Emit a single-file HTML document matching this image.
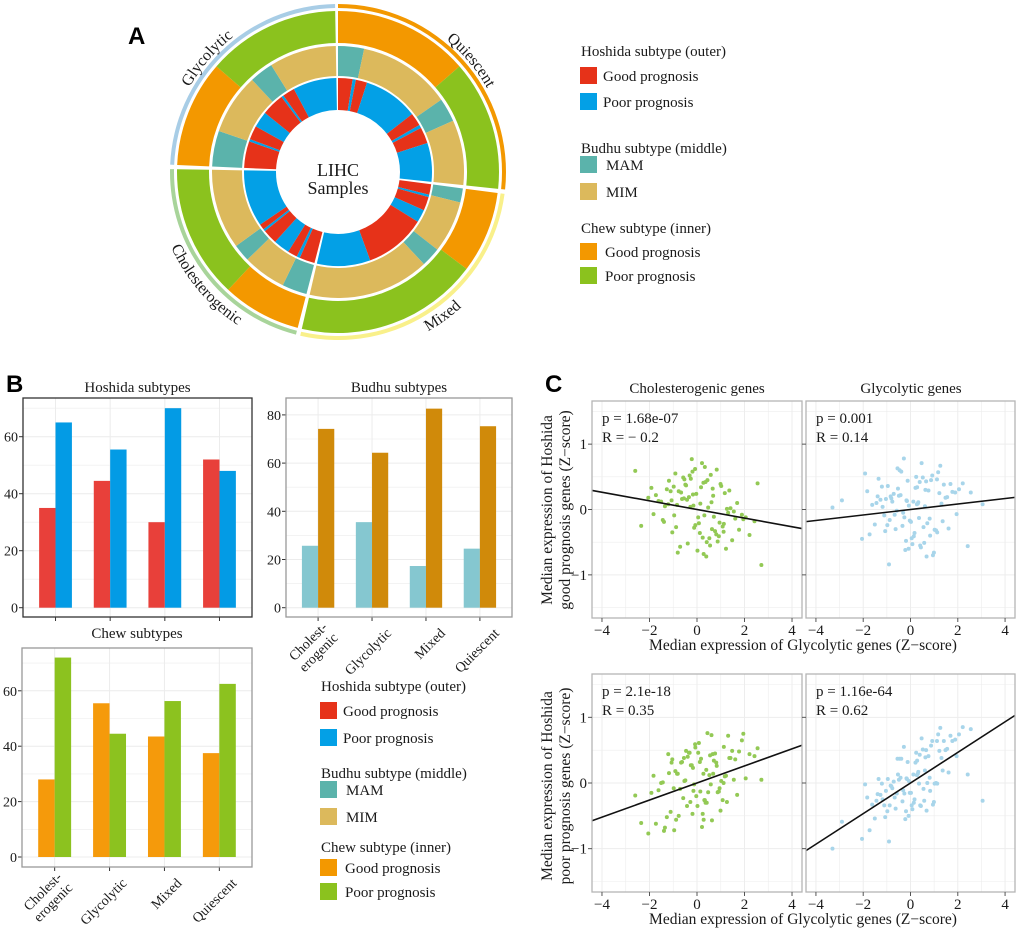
<!DOCTYPE html>
<html><head><meta charset="utf-8">
<style>
html,body{margin:0;padding:0;background:#fff;}
svg{display:block;font-family:"Liberation Serif",serif;}
</style></head>
<body>
<svg id="fig" width="1020" height="932" viewBox="0 0 1020 932" xmlns="http://www.w3.org/2000/svg">
<defs></defs>
<g id="donut"></g>
<g id="legendA"></g>
<g id="bars"></g>
<g id="legendB"></g>
<g id="scatter"></g>
<text x="128" y="44" font-family="Liberation Sans, sans-serif" font-weight="bold" font-size="24">A</text>
<text x="6" y="392" font-family="Liberation Sans, sans-serif" font-weight="bold" font-size="24">B</text>
<text x="545" y="392" font-family="Liberation Sans, sans-serif" font-weight="bold" font-size="24">C</text>
</svg>
<script>
// ---------- donut data ----------
const ringChew = [[0,49,'good'],[49,96,'poor'],[97.5,127,'good'],[127,193,'poor'],[194.5,223,'good'],[223,271,'poor'],[272.5,311,'good'],[311,359,'poor']];
const ringBudhu = [[0,12,'MAM'],[12,55,'MIM'],[55,66,'MAM'],[66,96,'MIM'],[97.5,104,'MAM'],[104,128,'MIM'],[128,137,'MAM'],[137,193,'MIM'],[194.5,206,'MAM'],[206,226,'MIM'],[226,234,'MAM'],[234,271,'MIM'],[272.5,289,'MAM'],[289,317,'MIM'],[317,328,'MAM'],[328,359,'MIM']];
const ringHoshida = [[0,9,'good'],[9,11,'poor'],[11,18,'good'],[18,52,'poor'],[52,60,'good'],[60,62,'poor'],[62,72,'good'],[72,96,'poor'],[97.5,104,'good'],[104,105.5,'poor'],[105.5,114,'good'],[114,122,'poor'],[122,160,'good'],[160,193,'poor'],[194.5,204,'good'],[204,206,'poor'],[206,212,'good'],[212,222,'poor'],[222,231,'good'],[231,232.5,'poor'],[232.5,236,'good'],[236,271,'poor'],[272.5,289,'good'],[289,290.5,'poor'],[290.5,299,'good'],[299,309,'poor'],[309,323,'good'],[323,324.5,'poor'],[324.5,332,'good'],[332,359,'poor']];
const groupNames = ['Quiescent','Mixed','Cholesterogenic','Glycolytic'];
const groupArcs = [[0,96],[97.5,193],[194.5,271],[272.5,359]];

// ---------- bar data ----------
const barCats = ['Cholest-\nerogenic','Glycolytic','Mixed','Quiescent'];
const hoshidaGood = [35,44.5,30,52];
const hoshidaPoor = [65,55.5,70,48];
const budhuMAM = [25.7,35.5,17.3,24.5];
const budhuMIM = [74.2,64.3,82.6,75.3];
const chewGood = [28,55.5,43.5,37.5];
const chewPoor = [72,44.5,56.3,62.5];
const ticks60 = [0,20,40,60];
const ticks80 = [0,20,40,60,80];

// ---------- scatter data ----------
const xL = [-0.42,1.13,0.27,-1.35,0.81,-0.08,2.05,-0.77,0.55,-1.92,0.14,1.48,-0.31,-0.96,0.68,1.77,-1.18,0.02,-0.55,1.02,-2.35,0.39,-0.19,1.31,-1.51,0.92,-0.67,0.21,2.42,-1.04,0.47,-0.26,1.22,-1.73,0.61,-0.12,0.99,-0.84,1.61,-0.39,0.33,-2.05,0.76,-0.58,1.41,0.08,-1.27,0.52,-0.03,1.89,-0.91,0.28,-1.62,1.08,-0.46,0.71,-0.15,2.21,-1.11,0.44,-0.71,1.26,0.17,-1.44,0.87,-0.34,1.55,-0.22,0.63,-2.6,0.05,1.17,-0.81,0.36,-1.21,0.95,-0.49,2.71,-0.63,0.24,1.36,-1.83,0.58,-0.07,1.69,-0.98,0.12,-0.28,0.83,-1.39,1.95,-0.53,0.41,-0.17,1.12,-1.07,0.31,2.55,-0.88,0.66];
const xR = [-0.42,1.13,0.27,-1.35,0.81,-0.08,2.05,-0.77,0.55,-1.92,0.14,1.48,-0.31,-0.96,0.68,1.77,-1.18,0.02,-0.55,1.02,-2.9,0.39,-0.19,1.31,-1.51,0.92,-0.67,0.21,2.42,-1.04,0.47,-0.26,1.22,-1.73,0.61,-0.12,0.99,-0.84,1.61,-0.39,0.33,-2.05,0.76,-0.58,1.41,0.08,-1.27,0.52,-0.03,1.89,-0.91,0.28,-1.62,1.08,-0.46,0.71,-0.15,2.21,-1.11,0.44,-0.71,1.26,0.17,-1.44,0.87,-0.34,1.55,-0.22,0.63,-3.3,0.05,1.17,-0.81,0.36,-1.21,0.95,-0.49,3.05,-0.63,0.24,1.36,-1.83,0.58,-0.07,1.69,-0.98,0.12,-0.28,0.83,-1.39,1.95,-0.53,0.41,-0.17,1.12,-1.07,0.31,2.55,-0.88,0.66];
const yTL = [0.15,-0.22,0.41,0.05,-0.38,0.62,-0.12,0.28,-0.55,0.33,0.09,-0.47,0.52,-0.09,0.21,-0.31,0.44,-0.63,0.17,0.36,-0.25,-0.72,0.58,-0.05,0.12,-0.41,0.26,0.71,-0.18,-0.35,0.03,0.47,-0.6,0.22,0.11,-0.28,0.39,0.07,-0.14,-0.52,0.65,0.18,-0.33,0.49,0.02,-0.21,0.31,-0.44,0.24,-0.08,0.55,-0.68,0.13,-0.26,0.37,-0.11,0.06,-0.39,0.28,0.45,-0.57,0.01,0.34,-0.16,-0.49,0.19,-0.03,0.77,-0.3,0.59,-0.12,0.25,-0.66,0.42,0.08,-0.2,0.38,-0.85,0.16,-0.43,0.29,-0.07,0.53,-0.24,0.1,0.35,-0.36,0.04,0.61,-0.19,-0.15,0.46,-0.5,0.23,-0.34,0.14,-0.09,0.4,-0.27,0.32];
const yTR = [0.22,-0.35,0.08,0.47,-0.14,-0.6,0.31,0.12,-0.27,0.55,-0.41,0.18,-0.05,0.36,-0.72,0.27,0.04,-0.19,0.63,-0.31,0.14,0.42,-0.48,0.09,-0.23,0.52,-0.08,0.33,-0.56,0.16,0.71,-0.12,0.25,-0.38,0.05,0.44,-0.66,0.2,-0.29,0.58,0.11,-0.45,0.29,-0.02,0.38,-0.53,0.15,0.49,-0.17,0.26,-0.84,0.34,0.07,-0.32,0.6,-0.21,0.13,0.4,-0.09,-0.58,0.24,0.67,-0.36,0.1,0.45,-0.25,0.19,-0.62,0.3,0.03,-0.44,0.57,0.17,-0.13,0.35,-0.7,0.21,0.08,-0.3,0.5,-0.18,0.28,-0.51,0.06,0.39,-0.24,0.12,0.78,-0.4,0.2,-0.07,0.32,-0.55,0.14,0.46,-0.33,0.09,0.26,-0.16,0.43];
const yBL = [-0.35,0.55,0.14,-0.68,0.31,0.59,0.07,-0.5,0.42,-0.15,-0.13,0.49,0.46,-0.72,0.14,0.48,0.15,-0.35,0.38,0.03,-0.61,0.2,-0.47,0.72,0.0,-0.13,0.31,-0.67,0.41,0.36,-0.14,0.27,0.11,-0.62,0.73,-0.02,-0.42,0.14,0.36,0.4,-0.26,-0.77,0.45,-0.23,0.38,0.61,-0.52,0.12,-0.2,0.65,0.18,-0.56,-0.11,-0.26,0.49,0.34,-0.12,0.44,-0.44,0.76,-0.09,-0.29,0.37,0.01,-0.14,0.46,0.05,0.27,-0.57,-0.19,0.46,0.1,0.14,-0.3,0.44,-0.08,0.04,0.05,0.32,-0.47,0.38,0.11,-0.02,0.54,-0.18,-0.08,0.32,-0.29,0.26,-0.73,0.75,0.03,-0.3,0.23,0.0,0.31,-0.26,0.53,-0.56,0.44];
const yBR = [0.08,-0.01,0.12,0.06,0.08,-0.5,0.74,-0.08,-0.09,-0.02,-0.3,0.5,-0.11,0.06,-0.42,0.64,-0.25,-0.15,0.37,-0.01,-0.59,0.43,-0.43,0.38,-0.54,0.64,-0.22,0.31,0.13,-0.12,0.68,-0.16,0.49,-0.72,0.19,0.32,-0.29,-0.04,0.16,0.37,0.17,-0.85,0.41,-0.16,0.64,-0.4,-0.18,0.51,-0.15,0.66,-0.89,0.34,-0.33,0.0,0.37,0.0,0.06,0.85,-0.34,-0.35,0.02,0.84,-0.25,-0.27,0.57,-0.28,0.52,-0.55,0.39,-1.0,-0.34,0.74,-0.05,-0.01,-0.01,-0.33,0.05,-0.27,-0.39,0.46,0.19,-0.22,-0.27,0.03,0.72,-0.43,0.13,0.55,-0.12,-0.17,0.41,0.13,-0.34,0.07,0.64,-0.52,0.14,0.82,-0.34,0.5];
const fitSlope = [-0.066,0.042,0.13,0.233];
const fitIntercept = [0,0,0,0];
const statP = ['p = 1.68e-07','p = 0.001','p = 2.1e-18','p = 1.16e-64'];
const statR = ['R = \u2212 0.2','R = 0.14','R = 0.35','R = 0.62'];
const xTicks = [-4,-2,0,2,4];
const yTicks = [-1,0,1];

const NS = 'http://www.w3.org/2000/svg';
function mk(tag, attrs, parent){ const e=document.createElementNS(NS,tag); for(const k in attrs) e.setAttribute(k,attrs[k]); if(parent) parent.appendChild(e); return e; }
function txt(parent, x, y, s, size, anchor, extra){ const t=mk('text',Object.assign({x:x,y:y,'font-size':size,'text-anchor':anchor||'start',fill:'#1a1a1a'},extra||{}),parent); t.textContent=s; return t; }

// ---------- donut ----------
const cx=338, cy=172;
const donut=document.getElementById('donut');
function pt(r,a){ const t=a*Math.PI/180; return [cx+r*Math.sin(t), cy-r*Math.cos(t)]; }
function arcPath(r0,r1,a0,a1){
  const large=(a1-a0)>180?1:0;
  const p1=pt(r1,a0),p2=pt(r1,a1),p3=pt(r0,a1),p4=pt(r0,a0);
  return `M${p1[0]},${p1[1]}A${r1},${r1} 0 ${large} 1 ${p2[0]},${p2[1]}L${p3[0]},${p3[1]}A${r0},${r0} 0 ${large} 0 ${p4[0]},${p4[1]}Z`;
}
const chewCol={good:'#f39800',poor:'#8bc21e'};
const budhuCol={MAM:'#5bb3ab',MIM:'#dcb95c'};
const hoshCol={good:'#e63219',poor:'#03a0e6'};
function drawRing(data, r0, r1, cols, name){
  data.forEach(function(s){
    const p=mk('path',{d:arcPath(r0,r1,s[0],s[1]),fill:cols[s[2]]},donut);
    
    
  });
}
drawRing(ringChew,129,161,chewCol,'chew-ring');
drawRing(ringBudhu,96,126,budhuCol,'budhu-ring');
drawRing(ringHoshida,62,94,hoshCol,'hoshida-ring');
const groupCols=['#f39800','#f9f08a','#a8d49a','#a8cde6'];
const labelAngles=[50,144,229.5,311];
const defs=document.querySelector('defs');
groupArcs.forEach(function(g,i){
  const p=mk('path',{d:arcPath(164,168,g[0],g[1]),fill:groupCols[i]},donut);
  
  
  const a=labelAngles[i];
  const cw = (a<90||a>270);
  const r = cw?171:183;
  const a0=cw?a-70:a+70, a1=cw?a+70:a-70;
  const s=pt(r,a0), e=pt(r,a1);
  mk('path',{id:'lp'+i,d:`M${s[0]},${s[1]}A${r},${r} 0 0 ${cw?1:0} ${e[0]},${e[1]}`,fill:'none'},defs);
  const t=mk('text',{'font-size':16,fill:'#1a1a1a'},donut);
  
  
  const tp=mk('textPath',{href:'#lp'+i,startOffset:'50%','text-anchor':'middle'},t);
  tp.textContent=groupNames[i];
});
const c1=txt(donut,cx,176,'LIHC',18,'middle');  
const c2=txt(donut,cx,194,'Samples',18,'middle');  

// ---------- legends ----------
function legend(parent, x, entries){
  entries.forEach(function(e){
    if(e.title){ const t=txt(parent,x,e.y,e.title,15,'start');   }
    else {
      const r=mk('rect',{x:x-1,y:e.y,width:17,height:17,fill:e.c},parent);
       
      const t=txt(parent,x+(e.ind||22),e.y+14,e.label,15,'start');  
    }
  });
}
function legendSet(y0,y1,y2,y3,y4,y5,y6,y7){
  return [{title:'Hoshida subtype (outer)',y:y0},{c:'#e63219',label:'Good prognosis',y:y1},{c:'#03a0e6',label:'Poor prognosis',y:y2},
   {title:'Budhu subtype (middle)',y:y3},{c:'#5bb3ab',label:'MAM',y:y4,ind:25},{c:'#dcb95c',label:'MIM',y:y5,ind:25},
   {title:'Chew subtype (inner)',y:y6},{c:'#f39800',label:'Good prognosis',y:y7,ind:24},{c:'#8bc21e',label:'Poor prognosis',y:y7+24,ind:24}];
}
legend(document.getElementById('legendA'),581,legendSet(56,67,93,153,156,183,233,243));
legend(document.getElementById('legendB'),321,legendSet(691,702,729,778,781,808,852,859));

// ---------- bars ----------
const barsG=document.getElementById('bars');
function barChart(o){
  const g=mk('g',{},barsG);
   
  const w=o.x1-o.x0, step=w/4.19;
  const y=v=>o.zero-o.ppu*v;
  for(let v=0; y(v)>o.y0; v+=10){
    mk('line',{x1:o.x0,x2:o.x1,y1:y(v),y2:y(v),stroke:'#ececec','stroke-width':v%20===0?1:0.6},g);
  }
  for(let i=0;i<4;i++){ const cxx=o.x0+(0.595+i)*step; mk('line',{x1:cxx,x2:cxx,y1:o.y0,y2:o.y1,stroke:'#ececec','stroke-width':1},g); }
  for(let i=0;i<4;i++){
    const cxx=o.x0+(0.595+i)*step, bw=0.3*step;
    const b1=mk('rect',{x:cxx-bw,y:y(o.a[i]),width:bw,height:o.ppu*o.a[i],fill:o.ca},g);
     
    const b2=mk('rect',{x:cxx,y:y(o.b[i]),width:bw,height:o.ppu*o.b[i],fill:o.cb},g);
     
    mk('line',{x1:cxx,x2:cxx,y1:o.y1,y2:o.y1+4,stroke:'#333'},g);
    if(o.labels){
      const lines=barCats[i].split('\n');
      if(lines.length===1){
        const t=txt(g,0,0,lines[0],14,'end',{transform:`translate(${cxx+o.lx},${o.y1+17}) rotate(-45)`});
         
      } else {
        lines.forEach(function(l,k){
          const t=txt(g,0,k*15,l,14,'end',{transform:`translate(${cxx+o.lx-10},${o.y1+11}) rotate(-45)`});
           
        });
      }
    }
  }
  o.ticks.forEach(function(v){
    mk('line',{x1:o.x0-4,x2:o.x0,y1:y(v),y2:y(v),stroke:'#333'},g);
    const t=txt(g,o.x0-5,y(v)+5,String(v),14,'end');  
  });
  mk('rect',{x:o.x0,y:o.y0,width:w,height:o.y1-o.y0,fill:'none',stroke:o.border,'stroke-width':1.3},g);
  const tt=txt(g,(o.x0+o.x1)/2,o.ty,o.title,15,'middle');  
}
barChart({name:'hoshida-bar-chart',x0:23,x1:252,y0:398,y1:617,zero:607.7,ppu:2.85,a:hoshidaGood,b:hoshidaPoor,ca:'#e8403a',cb:'#039be5',ka:'good',kb:'poor',ticks:ticks60,border:'#333',title:'Hoshida subtypes',ty:392,labels:false});
barChart({name:'budhu-bar-chart',x0:286,x1:512,y0:398,y1:617,zero:607.7,ppu:2.41,a:budhuMAM,b:budhuMIM,ca:'#85c7d0',cb:'#d08a0a',ka:'mam',kb:'mim',ticks:ticks80,border:'#999',title:'Budhu subtypes',ty:392,labels:true,lx:20});
barChart({name:'chew-bar-chart',x0:22,x1:252,y0:648,y1:867,zero:857,ppu:2.77,a:chewGood,b:chewPoor,ca:'#f59a0b',cb:'#8cc21f',ka:'good',kb:'poor',ticks:ticks60,border:'#999',title:'Chew subtypes',ty:638,labels:true,lx:18});

// ---------- scatter ----------
const scG=document.getElementById('scatter');
const panels=[
 {x0:592,x1:802,y0:401,y1:618,xs:xL,ys:yTL,col:'#93c955'},
 {x0:806,x1:1015,y0:401,y1:618,xs:xR,ys:yTR,col:'#a8d5ea'},
 {x0:592,x1:802,y0:674,y1:892,xs:xL,ys:yBL,col:'#93c955'},
 {x0:806,x1:1015,y0:674,y1:892,xs:xR,ys:yBR,col:'#a8d5ea'}];
const XD=4.42, YD=1.66;
panels.forEach(function(p,i){
  const g=mk('g',{},scG);
   
  const sx=v=>p.x0+(v+XD)/(2*XD)*(p.x1-p.x0);
  const sy=v=>p.y1-(v+YD)/(2*YD)*(p.y1-p.y0);
  mk('rect',{x:p.x0,y:p.y0,width:p.x1-p.x0,height:p.y1-p.y0,fill:'#fff'},g);
  for(let v=-4;v<=4;v++) mk('line',{x1:sx(v),x2:sx(v),y1:p.y0,y2:p.y1,stroke:'#ededed','stroke-width':v%2===0?1:0.6},g);
  for(let v=-1.5;v<=1.5;v+=0.5) mk('line',{x1:p.x0,x2:p.x1,y1:sy(v),y2:sy(v),stroke:'#ededed','stroke-width':Number.isInteger(v)?1:0.6},g);
  const n=Math.min(p.xs.length,p.ys.length);
  for(let k=0;k<n;k++){
    const c=mk('circle',{cx:sx(p.xs[k]),cy:sy(p.ys[k]),r:2,fill:p.col},g);
     
  }
  const l=mk('line',{x1:sx(-XD),y1:sy(fitIntercept[i]+fitSlope[i]*-XD),x2:sx(XD),y2:sy(fitIntercept[i]+fitSlope[i]*XD),stroke:'#111','stroke-width':1.6},g);
   
  mk('rect',{x:p.x0,y:p.y0,width:p.x1-p.x0,height:p.y1-p.y0,fill:'none',stroke:'#b5b5b5','stroke-width':1.3},g);
  xTicks.forEach(function(v){
    mk('line',{x1:sx(v),x2:sx(v),y1:p.y1,y2:p.y1+4,stroke:'#555'},g);
    const t=txt(g,sx(v),p.y1+17,v<0?'\u2212'+Math.abs(v):String(v),15,'middle');  
  });
  yTicks.forEach(function(v){
    mk('line',{x1:p.x0-4,x2:p.x0,y1:sy(v),y2:sy(v),stroke:'#555'},g);
    if(i%2===0){ const t=txt(g,p.x0-5,sy(v)+5,v<0?'\u2212'+Math.abs(v):String(v),15,'end');   }
  });
  const a1=txt(g,p.x0+10,p.y0+22,statP[i],15,'start');  
  const a2=txt(g,p.x0+10,p.y0+41,statR[i],15,'start');  
});
[['Cholesterogenic genes',697],['Glycolytic genes',911]].forEach(function(s){
  const t=txt(scG,s[1],393,s[0],15,'middle');  
});
[650,924].forEach(function(yy){
  const t=txt(scG,803,yy,'Median expression of Glycolytic genes (Z\u2212score)',15.5,'middle');  
});
[[510,'good'],[786,'poor']].forEach(function(s){
  const t1=txt(scG,0,0,'Median expression of Hoshida',15.5,'middle',{transform:`translate(552,${s[0]}) rotate(-90)`});
   
  const t2=txt(scG,0,0,s[1]+' prognosis genes (Z\u2212score)',15.5,'middle',{transform:`translate(570,${s[0]}) rotate(-90)`});
   
});
</script>
</body></html>
